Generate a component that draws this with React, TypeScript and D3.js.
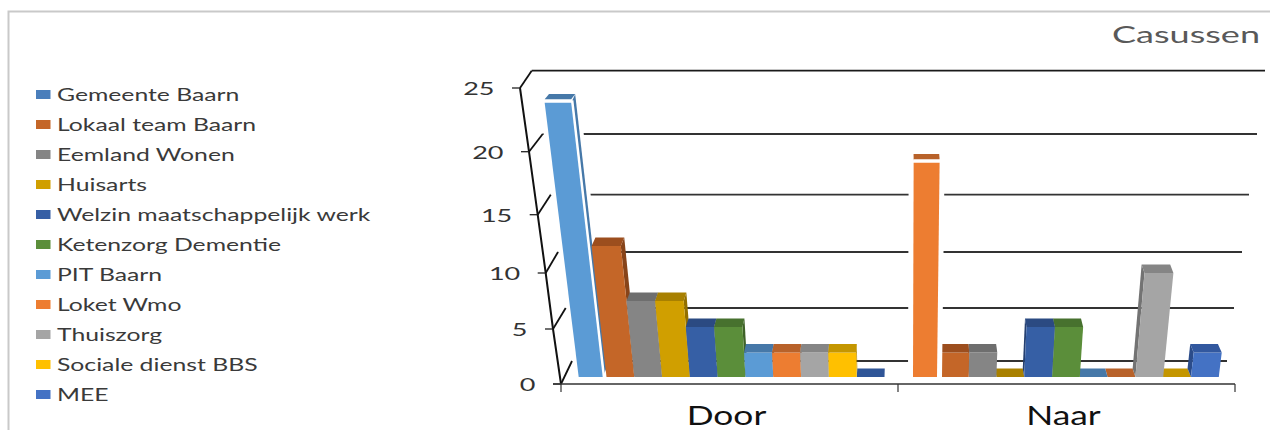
import React from 'react';
import * as d3 from 'd3';

const title = 'Casussen';
const categories = ['Door', 'Naar'];
const seriesNames = [
    'Gemeente Baarn',
    'Lokaal team Baarn',
    'Eemland Wonen',
    'Huisarts',
    'Welzin maatschappelijk werk',
    'Ketenzorg Dementie',
    'PIT Baarn',
    'Loket Wmo',
    'Thuiszorg',
    'Sociale dienst BBS',
    'MEE',
];
const seriesColors = ['#4a7ebb', '#c46628', '#858585', '#d09f00', '#365fa5', '#5b8e3a', '#5b9bd5', '#ed7d31', '#a5a5a5', '#ffc000', '#4472c4'];

const doorValues = [24, 12, 7, 7, 5, 5, 3, 3, 3, 3, 1];
const naarValues = [19, 3, 3, 1, 5, 5, 1, 1, 10, 1, 3];

const doorFaces = ['#5b9bd5', '#c46628', '#858585', '#d09f00', '#365fa5', '#5b8e3a', '#5b9bd5', '#ed7d31', '#a5a5a5', '#ffc000', '#365fa5'];
const doorTops = ['#4678a8', '#9c4e1e', '#6e6e6e', '#a88000', '#2b4a82', '#47712e', '#4678a8', '#b8622a', '#858585', '#c49600', '#2f5597'];
const naarFaces = ['#ed7d31', '#c46628', '#858585', '#d09f00', '#365fa5', '#5b8e3a', '#5b9bd5', '#ed7d31', '#a5a5a5', '#ffc000', '#4472c4'];
const naarTops = ['#b8622a', '#9c4e1e', '#6e6e6e', '#a88000', '#2b4a82', '#47712e', '#4678a8', '#b8622a', '#858585', '#c49600', '#32589f'];

const yTicks = [0, 5, 10, 15, 20, 25];

// the 3D box: the axis edge in front and the back wall, both slightly non linear
const yFront = d3.scaleLinear().domain(yTicks).range([384, 329, 273, 214.7, 151.7, 88]);
const xFront = d3.scaleLinear().domain(yTicks).range([561, 553, 545.7, 537.7, 529, 520]);
const yWall = d3.scaleLinear().domain(yTicks).range([361, 308, 252, 194.7, 134, 70.7]);
const xWallLeft = d3.scaleLinear().domain(yTicks).range([572, 565.7, 558, 550.7, 542.7, 531.7]);
const xWallRight = d3.scaleLinear().domain(yTicks).range([1227, 1234, 1242, 1249, 1257, 1265]);

// height of a bar's front top edge, the smallest value only shows its lid
const barFloor = 377;
const yBar = d3.scaleLinear().domain([1, 3, 5, 7, 10, 12, 19, 24]).range([barFloor, 352.5, 327, 301, 273, 246, 162.7, 102.7]);

const xGroup = d3.scaleBand<string>().domain(categories).range([561, 1235]);
const slotWidth = 27.8;
const groupStart = [17.7, 15];

const centerX = 905;
const lean = 0.00038;
const depth = 0.012;
const lidDepth = 8.5;

const leanX = (x: number, h: number) => x + (x - centerX) * lean * h;
const backX = (x: number) => x + (centerX - x) * depth;
const pts = (p: number[][]) => p.map(d => d.join(',')).join(' ');

interface Bar {
    key: string;
    x0: number;
    x1: number;
    value: number;
    face: string;
    top: string;
}

const makeBars = (groupIndex: number, values: number[], faces: string[], tops: string[]): Bar[] => {
    const start = xGroup(categories[groupIndex])! + groupStart[groupIndex];
    const slot = d3.scaleLinear().domain([0, values.length]).range([start, start + values.length * slotWidth]);
    return values.map((value, i) => ({
        key: `${groupIndex}-${i}`,
        x0: slot(i),
        // the two tallest columns are drawn a bit narrower with a white edge
        x1: value >= 19 ? slot(i) + 24 : slot(i + 1),
        value,
        face: faces[i],
        top: tops[i],
    }));
};

const doorBars = makeBars(0, doorValues, doorFaces, doorTops);
const naarBars = makeBars(1, naarValues, naarFaces, naarTops).reverse();
const allBars = [...doorBars, ...naarBars];
const drawOrder = [...allBars.filter(b => b.value <= 1), ...allBars.filter(b => b.value > 1)];

const BarShape: React.FC<{ bar: Bar }> = ({ bar }) => {
    const { x0, x1, value, face, top } = bar;
    const yTop = yBar(value);
    const h = barFloor - yTop;
    const tl = [leanX(x0, h), yTop];
    const tr = [leanX(x1, h), yTop];
    const bl = [x0, barFloor];
    const br = [x1, barFloor];
    const facePts = [bl, br, tr, tl];

    if (value <= 1) {
        return <polygon points={pts([bl, br, [backX(x1), barFloor - lidDepth], [backX(x0), barFloor - lidDepth]])} fill={top} />;
    }

    // which side shows depends on where the bar sits against the centre of view
    const edgeBottom = x0 > centerX ? bl : br;
    const edgeTop = x0 > centerX ? tl : tr;
    const sidePts = [edgeBottom, edgeTop, [backX(edgeTop[0]), yTop - lidDepth], [backX(edgeBottom[0]), barFloor - lidDepth]];
    const sideColor = d3.color(top)!.darker(0.4).formatHex();

    if (value >= 19) {
        const lidPts = [
            [tl[0], yTop - 3.5],
            [tr[0], yTop - 3.5],
            [backX(tr[0]), yTop - 8.7],
            [backX(tl[0]), yTop - 8.7],
        ];
        return (
            <g>
                <polygon points={pts([...facePts])} fill="#fff" stroke="#fff" strokeWidth={10} />
                <polygon points={pts(sidePts)} fill="#fff" stroke="#fff" strokeWidth={8} />
                <polygon points={pts(sidePts)} fill={top} />
                <polygon points={pts(facePts)} fill={face} stroke="#fff" strokeWidth={5} paintOrder="stroke" />
                <polygon points={pts(lidPts)} fill={top} />
            </g>
        );
    }

    const lidPts = [tl, tr, [backX(tr[0]), yTop - lidDepth], [backX(tl[0]), yTop - lidDepth]];
    return (
        <g>
            <polygon points={pts(sidePts)} fill={sideColor} />
            <polygon points={pts(facePts)} fill={face} />
            <polygon points={pts(lidPts)} fill={top} />
        </g>
    );
};

const App: React.FC = () => {
    const bandEnds = [...categories.map(c => xGroup(c)!), xGroup(categories[1])! + xGroup.bandwidth()];
    const axisPath = d3.line()(yTicks.map(t => [xFront(t), yFront(t)]))!;

    return (
        <svg width={1270} height={430} style={{ position: 'absolute', left: 0, top: 0, display: 'block', background: '#fff' }}>
            {/* picture frame, only top and left are in view */}
            <path d="M8.5,430V11.5H1270" fill="none" stroke="#c9c9c9" strokeWidth={2} />

            <text x={1260} y={43} textAnchor="end" fontFamily="Lato" fontSize={23} fill="#595959" textLength={148} lengthAdjust="spacingAndGlyphs">
                {title}
            </text>

            {seriesNames.map((name, i) => {
                const y = 94.5 + i * 30;
                return (
                    <g key={name}>
                        <rect x={36} y={y - 4.5} width={14.5} height={9} fill={seriesColors[i]} />
                        <text transform={`translate(57,${y + 6}) scale(1.5,1)`} fontFamily="Lato" fontSize={16.5} fill="#3a3a3a">
                            {name}
                        </text>
                    </g>
                );
            })}

            {/* back wall grid lines */}
            {yTicks.map(t => (
                <line key={t} x1={xWallLeft(t)} x2={xWallRight(t)} y1={yWall(t)} y2={yWall(t)} stroke={t === 25 ? '#1a1a1a' : '#333'} strokeWidth={1.8} />
            ))}

            {drawOrder.map(bar => (
                <BarShape key={bar.key} bar={bar} />
            ))}

            {/* value axis with its ticks and the floor diagonals */}
            <path d={axisPath} fill="none" stroke="#111" strokeWidth={2} />
            {yTicks.map(t => (
                <g key={t}>
                    <line x1={xFront(t) - 8} x2={xFront(t)} y1={yFront(t)} y2={yFront(t)} stroke="#222" strokeWidth={1.3} />
                    <line x1={xFront(t)} x2={xWallLeft(t)} y1={yFront(t)} y2={yWall(t)} stroke="#111" strokeWidth={1.8} />
                    <text
                        transform={`translate(${xFront(t) - 25.5},${yFront(t) + 7}) scale(1.5,1)`}
                        textAnchor="end"
                        fontFamily="Lato"
                        fontSize={18}
                        fill="#333"
                    >
                        {t}
                    </text>
                </g>
            ))}

            {/* category axis */}
            <line x1={553} x2={bandEnds[2]} y1={yFront(0)} y2={yFront(0)} stroke="#333" strokeWidth={1.6} />
            {bandEnds.map(x => (
                <line key={x} x1={x} x2={x} y1={yFront(0)} y2={392} stroke="#333" strokeWidth={1.2} />
            ))}
            {categories.map(c => (
                <text
                    key={c}
                    transform={`translate(${xGroup(c)! + xGroup.bandwidth() / 2 - 3},425) scale(1.36,1)`}
                    textAnchor="middle"
                    fontFamily="Lato"
                    fontSize={26}
                    fill="#111"
                >
                    {c}
                </text>
            ))}
        </svg>
    );
};

export default App;
